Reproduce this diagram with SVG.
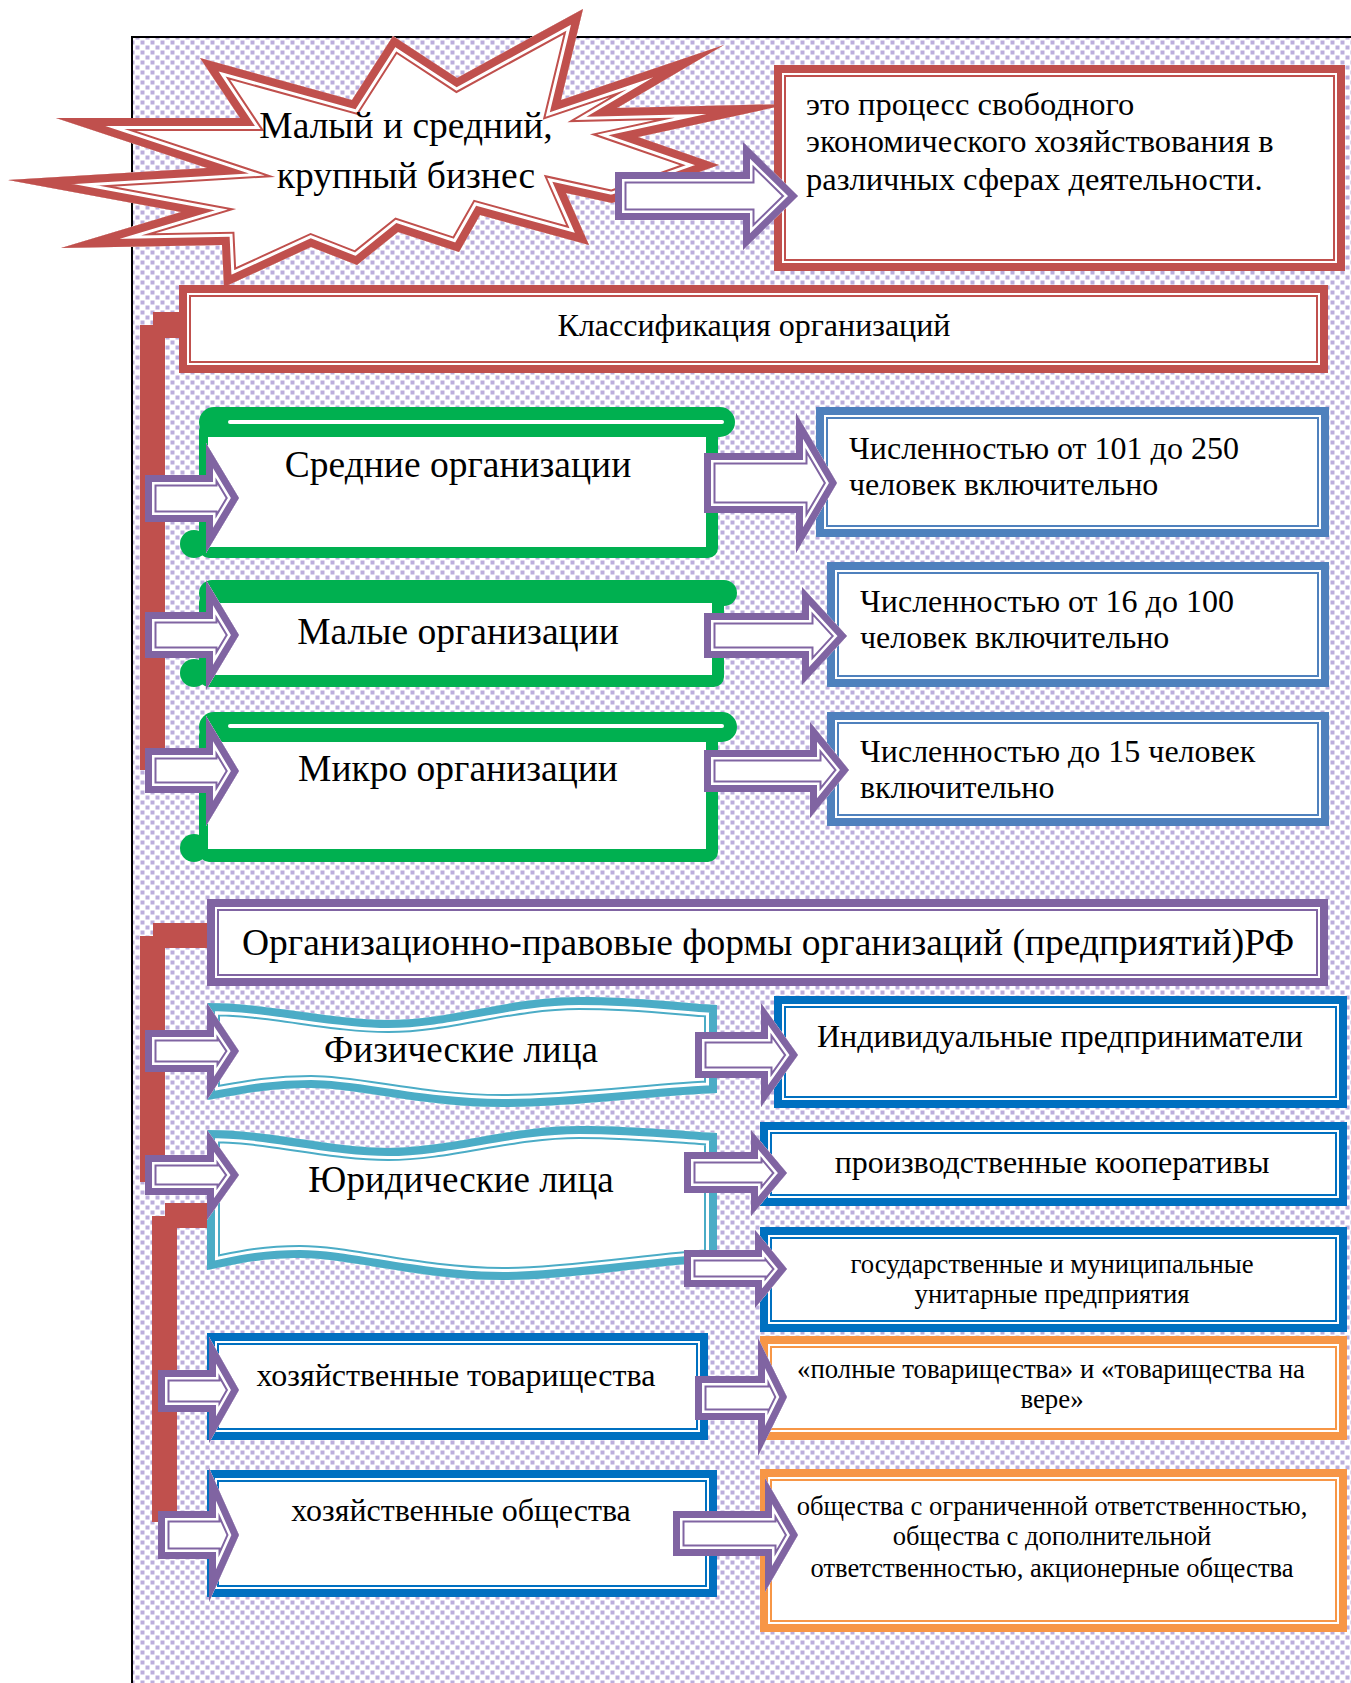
<svg xmlns="http://www.w3.org/2000/svg" xmlns:xlink="http://www.w3.org/1999/xlink" width="1351" height="1683" viewBox="0 0 1351 1683">
<style>
.t{font-family:'Liberation Serif','Times New Roman',serif;fill:#000}
.c{text-anchor:middle}
.ro{fill:#fff;stroke-width:8}
.ri{fill:none;stroke-width:2}
.red{stroke:#c0504d}
.pur{stroke:#8064a2}
.lb{stroke:#4f81bd}
.db{stroke:#0070c0}
.or{stroke:#f79646}
.tl{stroke:#4bacc6}
.w{fill:#fff}
.a1{fill:none;stroke-width:23;stroke-linejoin:miter;stroke-miterlimit:10}
.a2{fill:none;stroke:#fff;stroke-width:19;stroke-linejoin:miter;stroke-miterlimit:10}
.a3{fill:none;stroke-width:14;stroke-linejoin:miter;stroke-miterlimit:10}
.s1{fill:none;stroke-width:26;stroke-linejoin:miter;stroke-miterlimit:10}
.s2{fill:none;stroke:#fff;stroke-width:22;stroke-linejoin:miter;stroke-miterlimit:10}
.s3{fill:none;stroke-width:16;stroke-linejoin:miter;stroke-miterlimit:10}
.g{fill:#00b050}
.bar{fill:#c0504d}
.dot{fill:#bcaedc}
</style>
<defs>
<pattern id="dots" width="10" height="10" patternUnits="userSpaceOnUse">
<rect width="10" height="10" fill="#fff"/>
<rect class="dot" x="0.5" y="0.5" width="4" height="4"/>
<rect class="dot" x="5.5" y="5.5" width="4" height="4"/>
</pattern>
<path id="pStar" d="M583,9 L561,100 L724,45 L617,108 L790,104 L638,137 L719,165 L612,203 L566,193 L589,245 L480,215 L459,252 L398,232 L357,265 L311,247 L224,287 L222,245 L61,248 L181,212 L8,180 L207,168 L56,118 L240,118 L200,58 L352,100 L393,36 L457,78 Z"/>
<path id="pW1" d="M207,1003 C270,1003 330,1020 388,1020 C450,1020 510,997 579,997 C640,997 690,1004 717,1005 L717,1093 C660,1095 570,1107 503,1107 C420,1107 360,1088 311,1088 C260,1088 230,1097 207,1100 Z"/>
<path id="pW2" d="M207,1130 C270,1130 330,1148 388,1148 C450,1148 510,1126 579,1126 C640,1126 690,1132 717,1133 L717,1262 C660,1264 570,1280 503,1280 C420,1280 350,1258 300,1258 C255,1258 230,1266 207,1270 Z"/>
<path id="pA0" d="M615,172 H743 V142 L798,196 L743,250 V220 H615 Z"/>
<path id="pAL1" d="M145,475 H206 V443 L239,498 L206,553 V522 H145 Z"/>
<path id="pAL2" d="M145,612 H206 V580 L239,635 L206,690 V658 H145 Z"/>
<path id="pAL3" d="M145,748 H206 V716 L239,771 L206,826 V793 H145 Z"/>
<path id="pAW1" d="M145,1030 H207 V1003 L239,1051 L207,1100 V1072 H145 Z"/>
<path id="pAW2" d="M145,1155 H207 V1130 L239,1175 L207,1220 V1195 H145 Z"/>
<path id="pAHT" d="M158,1370 H209 V1337 L239,1390 L209,1443 V1412 H158 Z"/>
<path id="pAHO" d="M158,1511 H209 V1468 L239,1535 L209,1602 V1559 H158 Z"/>
<path id="pR1" d="M704,453 H796 V413 L837,483 L796,553 V513 H704 Z"/>
<path id="pR2" d="M704,613 H802 V587 L847,636 L802,685 V658 H704 Z"/>
<path id="pR3" d="M704,750 H810 V722 L849,770 L810,818 V792 H704 Z"/>
<path id="pWR1" d="M695,1032 H761 V1003 L798,1055 L761,1107 V1078 H695 Z"/>
<path id="pWR2" d="M684,1152 H751 V1130 L787,1173 L751,1216 V1193 H684 Z"/>
<path id="pWR3" d="M684,1250 H755 V1230 L787,1269 L755,1308 V1287 H684 Z"/>
<path id="pHTR" d="M695,1376 H758 V1338 L787,1397 L758,1456 V1420 H695 Z"/>
<path id="pHOR" d="M673,1511 H765 V1478 L798,1535 L765,1592 V1556 H673 Z"/>
<clipPath id="cStar"><use xlink:href="#pStar"/></clipPath>
<clipPath id="cW1"><use xlink:href="#pW1"/></clipPath>
<clipPath id="cW2"><use xlink:href="#pW2"/></clipPath>
<clipPath id="cA0"><use xlink:href="#pA0"/></clipPath>
<clipPath id="cAL1"><use xlink:href="#pAL1"/></clipPath>
<clipPath id="cAL2"><use xlink:href="#pAL2"/></clipPath>
<clipPath id="cAL3"><use xlink:href="#pAL3"/></clipPath>
<clipPath id="cAW1"><use xlink:href="#pAW1"/></clipPath>
<clipPath id="cAW2"><use xlink:href="#pAW2"/></clipPath>
<clipPath id="cAHT"><use xlink:href="#pAHT"/></clipPath>
<clipPath id="cAHO"><use xlink:href="#pAHO"/></clipPath>
<clipPath id="cR1"><use xlink:href="#pR1"/></clipPath>
<clipPath id="cR2"><use xlink:href="#pR2"/></clipPath>
<clipPath id="cR3"><use xlink:href="#pR3"/></clipPath>
<clipPath id="cWR1"><use xlink:href="#pWR1"/></clipPath>
<clipPath id="cWR2"><use xlink:href="#pWR2"/></clipPath>
<clipPath id="cWR3"><use xlink:href="#pWR3"/></clipPath>
<clipPath id="cHTR"><use xlink:href="#pHTR"/></clipPath>
<clipPath id="cHOR"><use xlink:href="#pHOR"/></clipPath>
</defs>

<rect x="132" y="37" width="1240" height="1670" fill="url(#dots)" stroke="#000" stroke-width="2"/>

<g id="connector-bars">
<path class="bar" d="M153,312 H182 V338 H165 V770 H140 V325 H153 Z"/>
<path class="bar" d="M153,923 H212 V948 H165 V1182 H140 V936 H153 Z"/>
<path class="bar" d="M165,1203 H212 V1228 H177 V1522 H152 V1216 H165 Z"/>
</g>

<g id="star">
<use xlink:href="#pStar" class="w"/>
<g clip-path="url(#cStar)">
<use xlink:href="#pStar" class="s1 red"/><use xlink:href="#pStar" class="s2"/><use xlink:href="#pStar" class="s3 red"/>
</g>
<text class="t c" x="406" y="138" font-size="37.5">Малый и средний,</text>
<text class="t c" x="406" y="188" font-size="37.5">крупный бизнес</text>
</g>

<g id="definition">
<rect class="ro red" x="778" y="69" width="563" height="198"/>
<rect class="ri red" x="785" y="76" width="549" height="184"/>
<text class="t" x="806" y="115" font-size="32.5">это процесс свободного</text>
<text class="t" x="806" y="152" font-size="32.5">экономического хозяйствования в</text>
<text class="t" x="806" y="190" font-size="32.5">различных сферах деятельности.</text>
</g>

<g id="classification">
<rect class="ro red" x="183" y="289" width="1141" height="80"/>
<rect class="ri red" x="190" y="296" width="1127" height="66"/>
<text class="t c" x="754" y="336" font-size="32">Классификация организаций</text>
</g>

<g id="medium">
<rect class="g" x="199" y="407" width="536" height="30" rx="15"/>
<rect class="g" x="199" y="420" width="519" height="138" rx="10"/>
<circle class="g" cx="194" cy="544" r="14"/>
<rect fill="#fff" x="208" y="437" width="498" height="110"/>
<rect fill="#fff" x="228" y="420" width="496" height="4" rx="2"/>
<text class="t c" x="458" y="477" font-size="37.5">Средние организации</text>
</g>

<g id="small">
<rect class="g" x="199" y="580" width="538" height="26" rx="13"/>
<rect class="g" x="199" y="592" width="525" height="95" rx="10"/>
<circle class="g" cx="194" cy="673" r="14"/>
<rect fill="#fff" x="208" y="603" width="504" height="72"/>
<text class="t c" x="458" y="644" font-size="37.5">Малые организации</text>
</g>

<g id="micro">
<rect class="g" x="199" y="712" width="538" height="30" rx="15"/>
<rect class="g" x="199" y="725" width="519" height="137" rx="10"/>
<circle class="g" cx="194" cy="848" r="14"/>
<rect fill="#fff" x="208" y="742" width="498" height="107"/>
<rect fill="#fff" x="228" y="724" width="496" height="4" rx="2"/>
<text class="t c" x="458" y="781" font-size="37.5">Микро организации</text>
</g>

<g id="count-medium">
<rect class="ro lb" x="820" y="411" width="505" height="122"/>
<rect class="ri lb" x="827" y="418" width="491" height="108"/>
<text class="t" x="849" y="459" font-size="32">Численностью от 101 до 250</text>
<text class="t" x="849" y="495" font-size="32">человек включительно</text>
</g>

<g id="count-small">
<rect class="ro lb" x="831" y="566" width="494" height="117"/>
<rect class="ri lb" x="838" y="573" width="480" height="103"/>
<text class="t" x="860" y="612" font-size="32">Численностью от 16 до 100</text>
<text class="t" x="860" y="648" font-size="32">человек включительно</text>
</g>

<g id="count-micro">
<rect class="ro lb" x="831" y="716" width="494" height="106"/>
<rect class="ri lb" x="838" y="723" width="480" height="92"/>
<text class="t" x="860" y="762" font-size="32">Численностью до 15 человек</text>
<text class="t" x="860" y="798" font-size="32">включительно</text>
</g>

<g id="legal-forms">
<rect class="ro pur" x="211" y="903" width="1113" height="79"/>
<rect class="ri pur" x="218" y="910" width="1099" height="65"/>
<text class="t c" x="768" y="955" font-size="37.5">Организационно-правовые формы организаций (предприятий)РФ</text>
</g>

<g id="individuals">
<use xlink:href="#pW1" class="w"/>
<g clip-path="url(#cW1)">
<use xlink:href="#pW1" class="s1 tl"/><use xlink:href="#pW1" class="s2"/><use xlink:href="#pW1" class="s3 tl"/>
</g>
<text class="t c" x="461" y="1062" font-size="37">Физические лица</text>
</g>

<g id="legal-entities">
<use xlink:href="#pW2" class="w"/>
<g clip-path="url(#cW2)">
<use xlink:href="#pW2" class="s1 tl"/><use xlink:href="#pW2" class="s2"/><use xlink:href="#pW2" class="s3 tl"/>
</g>
<text class="t c" x="461" y="1192" font-size="37">Юридические лица</text>
</g>

<g id="entrepreneurs">
<rect class="ro db" x="778" y="1000" width="565" height="104"/>
<rect class="ri db" x="785" y="1007" width="551" height="90"/>
<text class="t c" x="1060" y="1047" font-size="32">Индивидуальные предприниматели</text>
</g>

<g id="cooperatives">
<rect class="ro db" x="764" y="1126" width="579" height="76"/>
<rect class="ri db" x="771" y="1133" width="565" height="62"/>
<text class="t c" x="1052" y="1173" font-size="32">производственные кооперативы</text>
</g>

<g id="unitary">
<rect class="ro db" x="764" y="1231" width="579" height="97"/>
<rect class="ri db" x="771" y="1238" width="565" height="83"/>
<text class="t c" x="1052" y="1273" font-size="26.7">государственные и муниципальные</text>
<text class="t c" x="1052" y="1303" font-size="26.7">унитарные предприятия</text>
</g>

<g id="partnerships">
<rect class="ro db" x="211" y="1337" width="493" height="99"/>
<rect class="ri db" x="218" y="1344" width="479" height="85"/>
<text class="t c" x="456" y="1386" font-size="32">хозяйственные товарищества</text>
</g>

<g id="partnership-types">
<rect class="ro or" x="764" y="1340" width="579" height="96"/>
<rect class="ri or" x="771" y="1347" width="565" height="82"/>
<text class="t c" x="1051" y="1378" font-size="26.8">«полные товарищества» и «товарищества на</text>
<text class="t c" x="1052" y="1408" font-size="26.8">вере»</text>
</g>

<g id="companies">
<rect class="ro db" x="211" y="1474" width="502" height="119"/>
<rect class="ri db" x="218" y="1481" width="488" height="105"/>
<text class="t c" x="461" y="1521" font-size="32">хозяйственные общества</text>
</g>

<g id="company-types">
<rect class="ro or" x="764" y="1473" width="579" height="155"/>
<rect class="ri or" x="771" y="1480" width="565" height="141"/>
<text class="t c" x="1052" y="1515" font-size="26.6">общества с ограниченной ответственностью,</text>
<text class="t c" x="1052" y="1545" font-size="26.6">общества с дополнительной</text>
<text class="t c" x="1052" y="1577" font-size="26.6">ответственностью, акционерные общества</text>
</g>

<g id="connectors">
<g><use xlink:href="#pA0" class="w"/><g clip-path="url(#cA0)"><use xlink:href="#pA0" class="a1 pur"/><use xlink:href="#pA0" class="a2"/><use xlink:href="#pA0" class="a3 pur"/></g></g>
<g><use xlink:href="#pAL1" class="w"/><g clip-path="url(#cAL1)"><use xlink:href="#pAL1" class="a1 pur"/><use xlink:href="#pAL1" class="a2"/><use xlink:href="#pAL1" class="a3 pur"/></g></g>
<g><use xlink:href="#pAL2" class="w"/><g clip-path="url(#cAL2)"><use xlink:href="#pAL2" class="a1 pur"/><use xlink:href="#pAL2" class="a2"/><use xlink:href="#pAL2" class="a3 pur"/></g></g>
<g><use xlink:href="#pAL3" class="w"/><g clip-path="url(#cAL3)"><use xlink:href="#pAL3" class="a1 pur"/><use xlink:href="#pAL3" class="a2"/><use xlink:href="#pAL3" class="a3 pur"/></g></g>
<g><use xlink:href="#pAW1" class="w"/><g clip-path="url(#cAW1)"><use xlink:href="#pAW1" class="a1 pur"/><use xlink:href="#pAW1" class="a2"/><use xlink:href="#pAW1" class="a3 pur"/></g></g>
<g><use xlink:href="#pAW2" class="w"/><g clip-path="url(#cAW2)"><use xlink:href="#pAW2" class="a1 pur"/><use xlink:href="#pAW2" class="a2"/><use xlink:href="#pAW2" class="a3 pur"/></g></g>
<g><use xlink:href="#pAHT" class="w"/><g clip-path="url(#cAHT)"><use xlink:href="#pAHT" class="a1 pur"/><use xlink:href="#pAHT" class="a2"/><use xlink:href="#pAHT" class="a3 pur"/></g></g>
<g><use xlink:href="#pAHO" class="w"/><g clip-path="url(#cAHO)"><use xlink:href="#pAHO" class="a1 pur"/><use xlink:href="#pAHO" class="a2"/><use xlink:href="#pAHO" class="a3 pur"/></g></g>
<g><use xlink:href="#pR1" class="w"/><g clip-path="url(#cR1)"><use xlink:href="#pR1" class="a1 pur"/><use xlink:href="#pR1" class="a2"/><use xlink:href="#pR1" class="a3 pur"/></g></g>
<g><use xlink:href="#pR2" class="w"/><g clip-path="url(#cR2)"><use xlink:href="#pR2" class="a1 pur"/><use xlink:href="#pR2" class="a2"/><use xlink:href="#pR2" class="a3 pur"/></g></g>
<g><use xlink:href="#pR3" class="w"/><g clip-path="url(#cR3)"><use xlink:href="#pR3" class="a1 pur"/><use xlink:href="#pR3" class="a2"/><use xlink:href="#pR3" class="a3 pur"/></g></g>
<g><use xlink:href="#pWR1" class="w"/><g clip-path="url(#cWR1)"><use xlink:href="#pWR1" class="a1 pur"/><use xlink:href="#pWR1" class="a2"/><use xlink:href="#pWR1" class="a3 pur"/></g></g>
<g><use xlink:href="#pWR2" class="w"/><g clip-path="url(#cWR2)"><use xlink:href="#pWR2" class="a1 pur"/><use xlink:href="#pWR2" class="a2"/><use xlink:href="#pWR2" class="a3 pur"/></g></g>
<g><use xlink:href="#pWR3" class="w"/><g clip-path="url(#cWR3)"><use xlink:href="#pWR3" class="a1 pur"/><use xlink:href="#pWR3" class="a2"/><use xlink:href="#pWR3" class="a3 pur"/></g></g>
<g><use xlink:href="#pHTR" class="w"/><g clip-path="url(#cHTR)"><use xlink:href="#pHTR" class="a1 pur"/><use xlink:href="#pHTR" class="a2"/><use xlink:href="#pHTR" class="a3 pur"/></g></g>
<g><use xlink:href="#pHOR" class="w"/><g clip-path="url(#cHOR)"><use xlink:href="#pHOR" class="a1 pur"/><use xlink:href="#pHOR" class="a2"/><use xlink:href="#pHOR" class="a3 pur"/></g></g>
</g>
</svg>
